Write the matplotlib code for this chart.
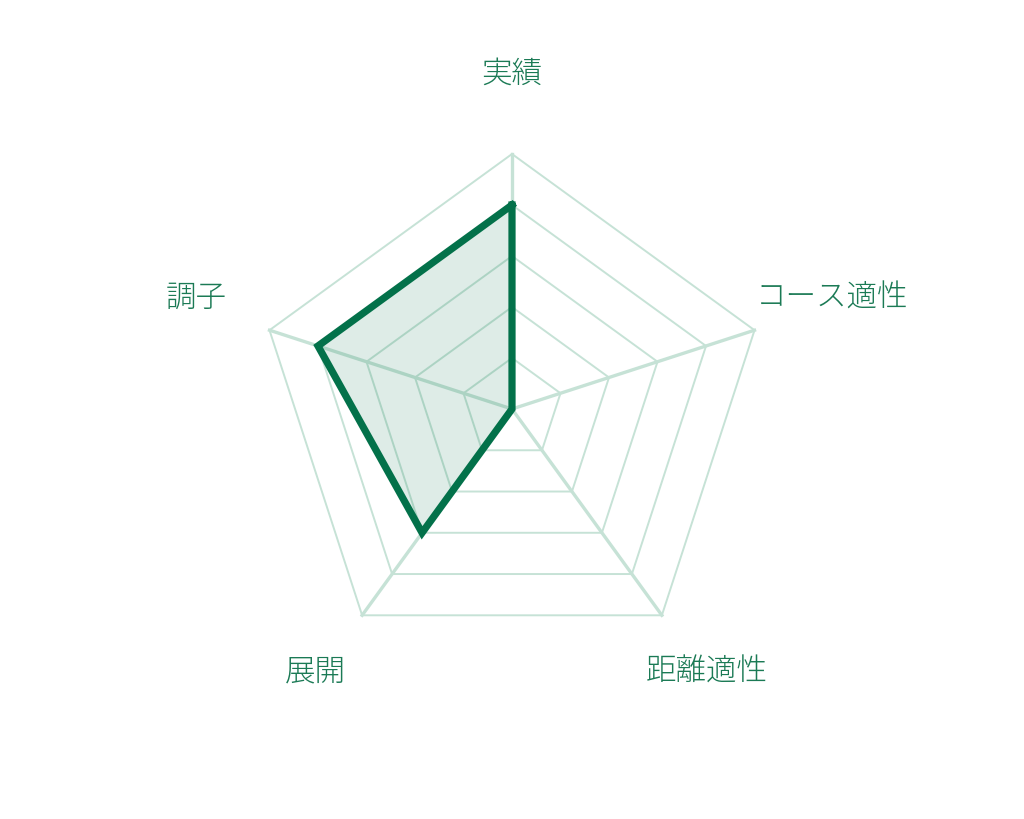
import numpy as np
import matplotlib
matplotlib.use('Agg')
import matplotlib.pyplot as plt

plt.rcParams['font.family'] = ['Noto Sans CJK JP', 'DejaVu Sans']

labels = ['実績', 'コース適性', '距離適性', '展開', '調子']
values = [4, 0, 0, 3, 4]
levels = [1, 2, 3, 4, 5]
vmax = 5

LINE = '#03714a'
GRID = '#c6e2d6'
TEXT = '#1b7a55'

n = len(labels)
ang = np.pi / 2 - np.arange(n) * 2 * np.pi / n

fig = plt.figure(figsize=(10.24, 8.2), dpi=100)
ax = fig.add_axes([0, 0, 1, 1])
u = 51.0  # px per unit
ax.set_xlim(-512 / u, 512 / u)
ax.set_ylim(-410 / u, 410 / u)
ax.set_aspect('equal')
ax.axis('off')

# rings
for lv in levels:
  xs = np.append(lv * np.cos(ang), lv * np.cos(ang[0]))
  ys = np.append(lv * np.sin(ang), lv * np.sin(ang[0]))
  ax.plot(xs, ys, '-', color=GRID, lw=1.4, zorder=1)

# spokes
for a in ang:
  ax.plot([0, vmax * np.cos(a)], [0, vmax * np.sin(a)], '-', color=GRID, lw=2.4, zorder=1)

v = np.array(values, dtype=float)
xs = np.append(v * np.cos(ang), v[0] * np.cos(ang[0]))
ys = np.append(v * np.sin(ang), v[0] * np.sin(ang[0]))
ax.fill(xs, ys, color=LINE, alpha=0.13, lw=0, zorder=2)
ax.plot(xs, ys, '-', color=LINE, lw=5.2, solid_joinstyle='miter', zorder=3)

# labels
pos = [(0, 6.6, 'center'), (4.78, 2.2, 'left'), (3.82, -5.12, 'center'),
       (-3.85, -5.12, 'center'), (-5.6, 2.2, 'right')]
for lab, (x, y, ha) in zip(labels, pos):
  ax.text(x, y, lab, ha=ha, va='center', fontsize=22, color=TEXT, fontweight='light')

plt.savefig('out.png', dpi=100)
